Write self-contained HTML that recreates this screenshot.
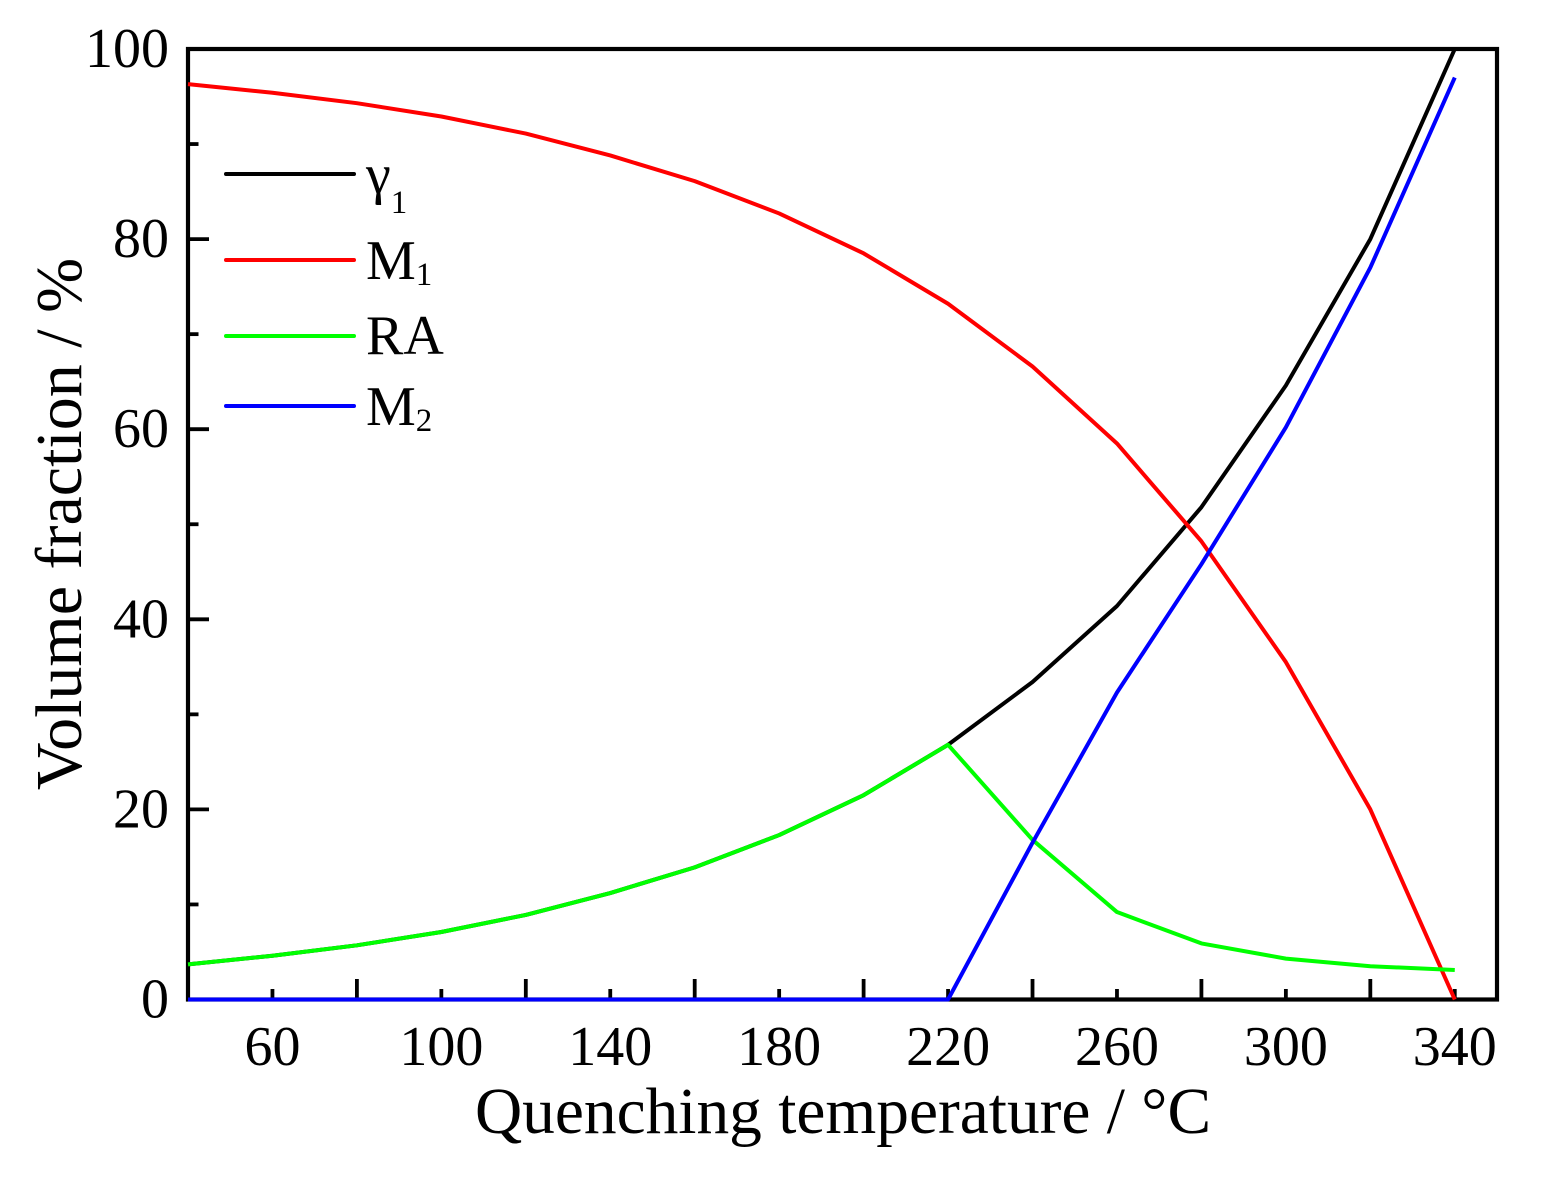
<!DOCTYPE html>
<html>
<head>
<meta charset="utf-8">
<title>Volume fraction vs quenching temperature</title>
<style>
html,body{margin:0;padding:0;background:#fff;}
svg{display:block;}
text{font-family:"Liberation Serif",serif;fill:#000;}
</style>
</head>
<body>
<svg id="chart" width="1541" height="1179" viewBox="0 0 1541 1179" xmlns="http://www.w3.org/2000/svg">
<rect width="1541" height="1179" fill="#fff"/>
<g id="ticks"></g>
<rect x="188" y="49" width="1309" height="950.5" fill="none" stroke="#000" stroke-width="4.2"/>
<g id="series-top"></g>
<g id="tick-labels" font-size="56"></g>
<text x="843" y="1133" font-size="65.4" text-anchor="middle">Quenching temperature / °C</text>
<text transform="translate(81,524) rotate(-90)" font-size="66" text-anchor="middle">Volume fraction / %</text>
<g>
  <line x1="226" x2="354" y1="174" y2="174" stroke="#000" stroke-width="4" stroke-linecap="round"/>
  <text x="366" y="193" font-size="56">γ<tspan font-size="33" dy="20">1</tspan></text>
  <line x1="226" x2="354" y1="260" y2="260" stroke="#ff0000" stroke-width="4" stroke-linecap="round"/>
  <text x="366" y="279" font-size="56">M<tspan font-size="33" dy="6">1</tspan></text>
  <line x1="226" x2="354" y1="336" y2="336" stroke="#00ff00" stroke-width="4" stroke-linecap="round"/>
  <text x="366" y="354" font-size="56">RA</text>
  <line x1="226" x2="354" y1="406" y2="406" stroke="#0000ff" stroke-width="4" stroke-linecap="round"/>
  <text x="366" y="425" font-size="56">M<tspan font-size="33" dy="6">2</tspan></text>
</g>
</svg>
<script>
const temperatures = [40,60,80,100,120,140,160,180,200,220,240,260,280,300,320,340];
const gamma1Values = [3.7,4.6,5.7,7.1,8.9,11.2,13.9,17.3,21.5,26.8,33.4,41.4,51.8,64.6,80.0,100.0];
const m1Values = [96.3,95.4,94.3,92.9,91.1,88.8,86.1,82.7,78.5,73.2,66.6,58.5,48.2,35.5,20.0,0.0];
const raValues = [3.7,4.6,5.7,7.1,8.9,11.2,13.9,17.3,21.5,26.8,16.8,9.2,5.9,4.3,3.5,3.1];
const m2Values = [0,0,0,0,0,0,0,0,0,0,16.5,32.3,45.8,60.2,77.0,97.0];
const xTickLabels = [60,100,140,180,220,260,300,340];
const xTickValues = [40,60,80,100,120,140,160,180,200,220,240,260,280,300,320,340];
const yTickLabels = [0,20,40,60,80,100];
const yTickValues = [0,10,20,30,40,50,60,70,80,90,100];

const xDomain = [40,350];
const yDomain = [0,100];
function xScale(v){ return 188 + (v - xDomain[0]) / (xDomain[1] - xDomain[0]) * 1309; }
function yScale(v){ return 999.5 - (v - yDomain[0]) / (yDomain[1] - yDomain[0]) * 950.5; }

const NS = 'http://www.w3.org/2000/svg';
const ticksG = document.getElementById('ticks');
const labelsG = document.getElementById('tick-labels');
const seriesTopG = document.getElementById('series-top');

xTickValues.forEach(function(v){
  if (v === xDomain[0]) return;
  const long = xTickLabels.indexOf(v) === -1;
  const t = document.createElementNS(NS,'line');
  
  
  t.setAttribute('x1', xScale(v)); t.setAttribute('x2', xScale(v));
  t.setAttribute('y1', 999.5); t.setAttribute('y2', 999.5 - (long ? 20.5 : 10.5));
  t.setAttribute('stroke', '#000'); t.setAttribute('stroke-width', 3.8);
  ticksG.appendChild(t);
});
yTickValues.forEach(function(v){
  const long = yTickLabels.indexOf(v) !== -1;
  const t = document.createElementNS(NS,'line');
  
  
  t.setAttribute('x1', 188); t.setAttribute('x2', 188 + (long ? 21 : 10.5));
  t.setAttribute('y1', yScale(v)); t.setAttribute('y2', yScale(v));
  t.setAttribute('stroke', '#000'); t.setAttribute('stroke-width', 3.8);
  ticksG.appendChild(t);
});
xTickLabels.forEach(function(v){
  const t = document.createElementNS(NS,'text');
  
  
  t.setAttribute('x', xScale(v)); t.setAttribute('y', 1065);
  t.setAttribute('text-anchor', 'middle');
  t.textContent = v;
  labelsG.appendChild(t);
});
yTickLabels.forEach(function(v){
  const t = document.createElementNS(NS,'text');
  
  
  t.setAttribute('x', 169); t.setAttribute('y', yScale(v) + 18);
  t.setAttribute('text-anchor', 'end');
  t.textContent = v;
  labelsG.appendChild(t);
});
function pointsFor(vals){
  return vals.map(function(v,i){ return xScale(temperatures[i]).toFixed(2) + ',' + yScale(v).toFixed(2); }).join(' ');
}
function addSeries(parent, vals, color){
  const p = document.createElementNS(NS,'polyline');
  p.setAttribute('points', pointsFor(vals));
  p.setAttribute('fill', 'none');
  p.setAttribute('stroke', color);
  p.setAttribute('stroke-width', 4);
  p.setAttribute('stroke-linejoin', 'round');
  parent.appendChild(p);
  return p;
}
const gammaLine = addSeries(seriesTopG, gamma1Values, '#000000');


const m1Line = addSeries(seriesTopG, m1Values, '#ff0000');


const raLine = addSeries(seriesTopG, raValues, '#00ff00');


const m2Line = addSeries(seriesTopG, m2Values, '#0000ff');


</script>
</body>
</html>
